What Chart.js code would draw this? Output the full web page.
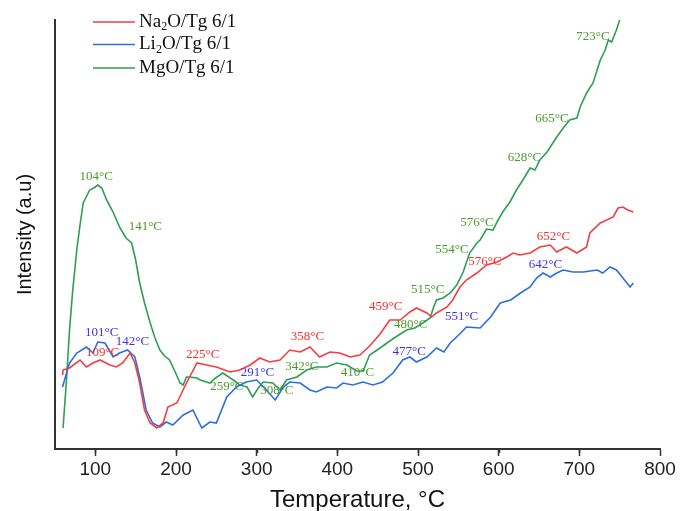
<!DOCTYPE html>
<html>
<head>
<meta charset="utf-8">
<script src="https://cdn.jsdelivr.net/npm/chart.js@4.4.1/dist/chart.umd.min.js"></script>
<style>
  html, body { margin: 0; padding: 0; background: #ffffff; }
  #wrap { width: 689px; height: 511px; }
</style>
</head>
<body>
<div id="wrap"><canvas id="c" width="689" height="511"></canvas></div>
<script>
// ---- Data (temperature °C, intensity a.u.) ----
const naT = [59.5,60,68,81,89,97,106,118,126,134,143,149,155,161,168,176,184,190,201,213,226,238,250,267,279,292,304,316,329,341,354,366,378,391,403,416,428,440,453,465,478,490,498,511,517,523,536,543,552,560,573,585,598,610,618,626,639,651,664,672,684,697,709,713,726,742,748,754,760,767];
const naI = [74,79,81,89,82,86,89,84,82,86,96,86,66,39,26,21,26,42,46,66,86,84,82,77,79,84,91,87,89,99,97,102,92,97,96,92,94,103,115,129,129,137,141,136,132,136,142,149,162,169,176,184,187,192,196,194,196,202,204,197,202,196,202,216,226,232,241,242,239,237];

const liT = [59.5,60,68,77,89,97,103,112,122,130,140,149,155,163,171,180,188,196,209,221,232,242,250,263,275,287,300,312,323,333,341,354,366,374,387,399,407,419,432,444,456,469,481,490,498,511,523,532,540,553,560,577,590,602,615,627,639,647,655,664,672,680,692,705,722,729,738,746,754,763,767];
const liI = [62,64,86,96,102,96,107,106,92,96,99,92,72,39,26,22,27,24,34,39,21,27,26,52,62,67,69,59,49,62,67,66,59,57,62,61,66,64,67,64,67,76,89,92,87,92,101,97,106,116,122,121,132,146,149,156,162,171,176,172,176,179,177,177,179,176,182,179,171,162,166];

const mgT = [60,64,68,72,77,81,85,88,93,98,103,108,114,122,130,138,145,150,155,161,168,174,180,186,192,199,205,209,213,217,226,230,242,249,258,271,279,288,295,302,308,320,329,337,350,362,374,387,399,412,424,432,440,453,465,478,486,496,506,515,519,523,531,540,548,556,564,573,577,585,593,598,605,614,622,630,639,645,651,660,672,680,688,697,701,709,717,726,732,736,740,746,750];
const mgI = [21,66,119,159,199,224,246,251,259,261,264,261,249,237,222,211,206,189,166,146,126,111,99,93,89,77,66,64,72,72,71,69,66,71,76,69,64,62,52,61,67,66,59,69,72,79,82,82,86,84,78,78,94,101,108,115,119,121,126,131,141,149,151,156,164,177,196,206,209,220,219,227,237,247,259,269,281,279,289,297,312,321,329,331,342,356,366,389,399,409,407,419,429];

// peak annotations: [temperature, intensity, text]
const naLabels = [[109,96,'109°C'],[233,94,'225°C'],[363,112,'358°C'],[460,142,'459°C'],[583,187,'576°C'],[668,212,'652°C']];
const liLabels = [[108,116,'101°C'],[146,107,'142°C'],[301,76,'291°C'],[489,97,'477°C'],[554,132,'551°C'],[658,184,'642°C']];
const mgLabels = [[101,272,'104°C'],[162,222,'141°C'],[263,62,'259°C'],[325,58,'308°C'],[356,82,'342°C'],[425,76,'410°C'],[491,124,'480°C'],[512,159,'515°C'],[542,199,'554°C'],[573,226,'576°C'],[632,291,'628°C'],[666,330,'665°C'],[717,412,'723°C']];

const xMin = 50, xMax = 800, xStep = 50;
const yMin = 0, yMax = 429;

const seriesNames = ['Na|2|O/Tg 6/1', 'Li|2|O/Tg 6/1', 'MgO/Tg 6/1'];
const lineColors = ['#f33d40', '#2c6fdc', '#2f9e55'];
const labelColors = ['#ff2b2b', '#3b33e8', '#4c9a2c'];

const SANS = "'Liberation Sans', Arial, sans-serif";
const SERIF = "'Liberation Serif', 'Times New Roman', serif";

function pts(t, v) { return t.map((x, i) => ({ x: x, y: v[i] })); }

const annotPlugin = {
  id: 'annot',
  afterDatasetsDraw(chart) {
    const ctx = chart.ctx, xs = chart.scales.x, ys = chart.scales.y;
    ctx.save();
    ctx.font = '13px ' + SERIF;
    ctx.textAlign = 'center';
    ctx.textBaseline = 'middle';
    [naLabels, liLabels, mgLabels].forEach((arr, k) => {
      ctx.fillStyle = labelColors[k];
      arr.forEach(l => ctx.fillText(l[2], xs.getPixelForValue(l[0]), ys.getPixelForValue(l[1])));
    });
    ctx.restore();
  },
  afterDraw(chart) {
    const ctx = chart.ctx, xs = chart.scales.x, area = chart.chartArea;
    ctx.save();
    // minor ticks
    ctx.strokeStyle = '#333';
    ctx.lineWidth = 1.5;
    for (let v = xMin + xStep; v < xMax; v += 100) {
      const px = Math.round(xs.getPixelForValue(v)) + 0.5;
      ctx.beginPath();
      ctx.moveTo(px, area.bottom);
      ctx.lineTo(px, area.bottom + 4);
      ctx.stroke();
    }
    // legend
    const lx0 = area.left + 38, lx1 = area.left + 80, tx = area.left + 84;
    const rows = [22, 44.5, 68];
    seriesNames.forEach((name, i) => {
      const y = rows[i];
      ctx.strokeStyle = lineColors[i];
      ctx.lineWidth = 1.5;
      ctx.beginPath();
      ctx.moveTo(lx0, y);
      ctx.lineTo(lx1, y);
      ctx.stroke();
      ctx.fillStyle = '#111';
      ctx.textBaseline = 'middle';
      ctx.textAlign = 'left';
      const parts = name.split('|');
      let x = tx;
      parts.forEach((p, j) => {
        if (j === 1) {
          ctx.font = '12px ' + SERIF;
          ctx.fillText(p, x, y + 5);
        } else {
          ctx.font = '19px ' + SERIF;
          ctx.fillText(p, x, y);
        }
        x += ctx.measureText(p).width;
      });
    });
    ctx.restore();
  }
};

new Chart(document.getElementById('c'), {
  type: 'line',
  data: {
    datasets: [
      { label: 'Na2O/Tg 6/1', data: pts(naT, naI), borderColor: lineColors[0] },
      { label: 'Li2O/Tg 6/1', data: pts(liT, liI), borderColor: lineColors[1] },
      { label: 'MgO/Tg 6/1', data: pts(mgT, mgI), borderColor: lineColors[2] }
    ]
  },
  options: {
    responsive: false,
    animation: false,
    parsing: true,
    layout: { padding: { left: 0, right: 29, top: 20, bottom: 0 } },
    elements: {
      line: { borderWidth: 1.6, tension: 0, fill: false },
      point: { radius: 0 }
    },
    plugins: { legend: { display: false }, tooltip: { enabled: false } },
    scales: {
      x: {
        type: 'linear',
        min: xMin, max: xMax,
        afterFit: s => { s.height = 62; },
        ticks: {
          stepSize: xStep,
          autoSkip: false,
          maxRotation: 0,
          padding: 2,
          color: '#222',
          font: { family: SANS, size: 19 },
          callback: v => (v % 100 === 0 && v >= 100) ? String(v) : ''
        },
        grid: {
          display: true,
          drawOnChartArea: false,
          drawTicks: true,
          tickLength: 7,
          tickWidth: 1.5,
          tickColor: c => (c.tick && c.tick.value % 100 === 0 && c.tick.value >= 100) ? '#333' : 'rgba(0,0,0,0)'
        },
        border: { display: true, color: '#333', width: 2 },
        title: {
          display: true,
          text: 'Temperature, °C',
          color: '#111',
          font: { family: SANS, size: 24, lineHeight: 0.8 },
          padding: { top: 0, bottom: 1 }
        }
      },
      y: {
        type: 'linear',
        min: yMin, max: yMax,
        afterFit: s => { s.width = 55; },
        ticks: { display: false },
        grid: { display: false, drawTicks: false },
        border: { display: true, color: '#333', width: 2 },
        title: {
          display: true,
          text: 'Intensity (a.u)',
          color: '#111',
          font: { family: SANS, size: 20, lineHeight: 1.2 },
          padding: { top: 13, bottom: 0 }
        }
      }
    }
  },
  plugins: [annotPlugin]
});
</script>
</body>
</html>
